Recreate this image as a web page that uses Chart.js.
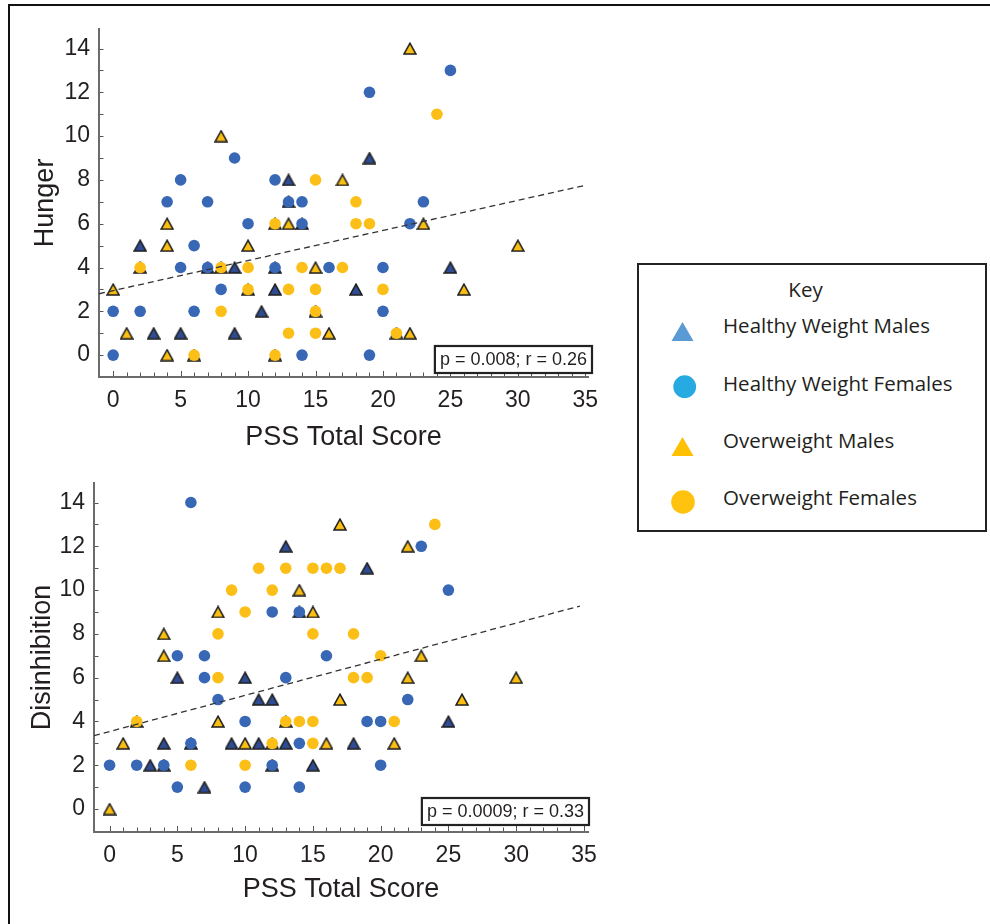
<!DOCTYPE html>
<html>
<head>
<meta charset="utf-8">
<script src="https://cdn.jsdelivr.net/npm/chart.js@4.4.0/dist/chart.umd.min.js"></script>
<style>
html,body{margin:0;padding:0;background:#fff;}
body{width:990px;height:924px;position:relative;overflow:hidden;}
#frame{position:absolute;left:8px;top:4px;width:990px;height:940px;border-left:2px solid #111;border-top:2px solid #111;}
#c1{position:absolute;left:10px;top:6px;}
#c2{position:absolute;left:10px;top:460px;}
#key{position:absolute;left:637px;top:263px;width:346px;height:265px;border:2px solid #222;font-family:"Open Sans";font-size:20.5px;color:#231f20;}
#key div{position:absolute;white-space:nowrap;line-height:28px;}
#key svg{position:absolute;left:0;top:0;}
</style>
</head>
<body>
<div id="frame"></div>
<canvas id="c1" width="600" height="464"></canvas>
<canvas id="c2" width="600" height="464"></canvas>

<div id="key">
<svg width="346" height="265">
<polygon points="32.5,76 54.5,76 43.5,57" fill="#5b9bd5"/>
<circle cx="45.7" cy="121.7" r="11.4" fill="#27aae1"/>
<polygon points="32.5,191 54.5,191 43.5,172" fill="#ffc000"/>
<circle cx="44" cy="237" r="11.8" fill="#ffc20e"/>
</svg>
<div style="left:0;width:333px;text-align:center;top:10px;">Key</div>
<div style="left:84px;top:46px;">Healthy Weight Males</div>
<div style="left:84px;top:104px;">Healthy Weight Females</div>
<div style="left:84px;top:161px;">Overweight Males</div>
<div style="left:84px;top:218px;">Overweight Females</div>
</div>

<script>

// Hunger vs PSS total score
const hungerHwFemalesX = [5,9,12,4,7,13,14,25,19,23,10,14,6,5,7,12,16,8,0,2,6,0,14,22,20,20,19]
const hungerHwFemalesY = [8,9,8,7,7,7,7,13,12,7,6,6,5,4,4,4,4,3,2,2,2,0,0,6,4,2,0]

const hungerHwMalesX = [13,19,2,9,12,11,3,5,9,25,18,13,14,7,12]
const hungerHwMalesY = [8,9,5,4,3,2,1,1,1,4,3,7,6,4,4]

const hungerOwMalesX = [8,17,22,4,13,23,4,10,15,0,1,16,4,30,26,22,12,2,8,10,15,6,12,21]
const hungerOwMalesY = [10,8,14,6,6,6,5,5,4,3,1,1,0,5,3,1,6,4,4,3,2,0,0,1]

const hungerOwFemalesX = [15,24,18,12,18,19,2,8,10,14,17,10,13,15,20,8,15,13,15,21,6,12]
const hungerOwFemalesY = [8,11,7,6,6,6,4,4,4,4,4,3,3,3,3,2,2,1,1,1,0,0]

const hungerTrendX = [-1.05, 34.9]
const hungerTrendY = [2.8, 7.74]

// Disinhibition vs PSS total score
const disHwFemalesX = [6,23,12,14,25,5,7,16,7,13,8,22,10,19,20,6,14,0,2,4,12,20,5,10,14]
const disHwFemalesY = [14,12,9,9,10,7,7,7,6,6,5,5,4,4,4,3,3,2,2,2,2,2,1,1,1]

const disHwMalesX = [13,19,5,10,11,12,25,4,9,11,13,18,3,15,7,14,6,4,12]
const disHwMalesY = [12,11,6,6,5,5,4,3,3,3,3,3,2,2,1,9,3,2,2]

const disOwMalesX = [17,22,14,8,15,4,4,23,22,30,17,26,8,1,10,16,21,0,2,13,12]
const disOwMalesY = [13,12,10,9,9,8,7,7,6,6,5,5,4,3,3,3,3,0,4,4,3]

const disOwFemalesX = [24,11,13,15,16,17,9,12,10,8,15,18,20,8,18,19,2,13,14,15,21,12,15,6,10]
const disOwFemalesY = [13,11,11,11,11,11,10,10,9,8,8,8,7,6,6,6,4,4,4,4,4,3,3,2,2]

const disTrendX = [-1.15, 34.7]
const disTrendY = [3.35, 9.27]

const xTicksMax = 35
const yTicksMax = 14


function pts(xs, ys){
return xs.map((x,i)=>({x:x, y:ys[i]}))
}

function triangleImage(fill){
const c = document.createElement("canvas")
c.width = 14
c.height = 13
const g = c.getContext("2d")
g.beginPath()
g.moveTo(7,1.2)
g.lineTo(12.9,11.9)
g.lineTo(1.1,11.9)
g.closePath()
g.fillStyle = fill
g.fill()
g.lineWidth = 1.5
g.strokeStyle = "#1c1c1c"
g.stroke()
return c
}

const triBlue = triangleImage("#2f4c93")
const triYellow = triangleImage("#fbbf14")


const axisMarks = {
id:"axisMarks",
afterDraw(chart, args, opts){
const {ctx, chartArea} = chart
const x = chart.scales.x
const y = chart.scales.y
ctx.save()
ctx.strokeStyle = "#555"
ctx.lineWidth = 1
for(let v=0; v<=xTicksMax; v++){
const px = Math.round(x.getPixelForValue(v)) + 0.5
const len = v % 5 === 0 ? 5 : 3.5
ctx.beginPath()
ctx.moveTo(px, chartArea.bottom - 1)
ctx.lineTo(px, chartArea.bottom - 1 - len)
ctx.stroke()
}
for(let v=0; v<=yTicksMax; v++){
const py = Math.round(y.getPixelForValue(v)) + 0.5
ctx.beginPath()
ctx.moveTo(chartArea.left + 1, py)
ctx.lineTo(chartArea.left + 1 + 3.5, py)
ctx.stroke()
}

// stats box
ctx.font = '18px "Liberation Sans"'
const w = ctx.measureText(opts.text).width + 10
const h = 27
const right = chartArea.right + opts.dx
const bottom = chartArea.bottom + opts.dy
ctx.fillStyle = "#fff"
ctx.fillRect(right - w, bottom - h, w, h)
ctx.lineWidth = 2.2
ctx.strokeStyle = "#222"
ctx.strokeRect(right - w, bottom - h, w, h)
ctx.fillStyle = "#231f20"
ctx.textBaseline = "middle"
ctx.fillText(opts.text, right - w + 5, bottom - h/2 + 1)
ctx.restore()
}
}


function makeChart(id, series, trendX, trendY, o){

const datasets = [
{data:pts(series[0],series[1]), pointStyle:"circle", pointRadius:5.8, backgroundColor:"#3767b5", borderColor:"#3767b5", borderWidth:0, order:1},
{data:pts(series[2],series[3]), pointStyle:"circle", pointRadius:5.8, backgroundColor:"#fcbf17", borderColor:"#fcbf17", borderWidth:0, order:2},
{data:pts(series[4],series[5]), pointStyle:triBlue, pointRadius:6, order:3},
{data:pts(series[6],series[7]), pointStyle:triYellow, pointRadius:6, order:4},
{type:"line", data:pts(trendX,trendY), showLine:true, borderColor:"#333", borderWidth:1.3, borderDash:[6,4], pointRadius:0, fill:false, order:0}
]

return new Chart(document.getElementById(id), {
type:"scatter",
data:{datasets},
plugins:[axisMarks],
options:{
responsive:false,
animation:false,
devicePixelRatio:1,
layout:{padding:{left:0, right:22, top:0, bottom:o.bottom}},
plugins:{
legend:{display:false},
tooltip:{enabled:false},
axisMarks:{text:o.text, dx:o.dx, dy:o.dy}
},
scales:{
x:{
min:o.xmin, max:o.xmax,
afterFit:(s)=>{ s.height = 85 },
grid:{display:false, drawTicks:false},
border:{display:true, color:"#6b6b6b", width:2},
ticks:{stepSize:5, includeBounds:false, autoSkip:false, padding:10, color:"#231f20", font:{family:"Liberation Sans", size:23}},
title:{display:true, text:"PSS Total Score", color:"#231f20", font:{family:"Liberation Sans", size:27}, padding:{top:0, bottom:o.xtitle}}
},
y:{
min:o.ymin, max:14.9,
afterFit:(s)=>{ s.width = o.yw },
grid:{display:false, drawTicks:false},
border:{display:true, color:"#6b6b6b", width:2},
ticks:{stepSize:2, includeBounds:false, autoSkip:false, padding:9, color:"#231f20", font:{family:"Liberation Sans", size:23}},
title:{display:true, text:o.ytitle, color:"#231f20", font:{family:"Liberation Sans", size:27}, padding:{top:o.ytpad, bottom:0}}
}
}
}
})
}


makeChart("c1",
[hungerHwFemalesX, hungerHwFemalesY, hungerOwFemalesX, hungerOwFemalesY, hungerHwMalesX, hungerHwMalesY, hungerOwMalesX, hungerOwMalesY],
hungerTrendX, hungerTrendY,
{bottom:8, yw:89, xmin:-1.05, xmax:35.2, ymin:-1, xtitle:8, ytitle:"Hunger", ytpad:19, text:"p = 0.008; r = 0.26", dx:4, dy:-4})

makeChart("c2",
[disHwFemalesX, disHwFemalesY, disOwFemalesX, disOwFemalesY, disHwMalesX, disHwMalesY, disOwMalesX, disOwMalesY],
disTrendX, disTrendY,
{bottom:7, yw:84, xmin:-1.15, xmax:35.3, ymin:-1.05, xtitle:11, ytitle:"Disinhibition", ytpad:16, text:"p = 0.0009; r = 0.33", dx:1, dy:-7})

</script>
</body>
</html>
